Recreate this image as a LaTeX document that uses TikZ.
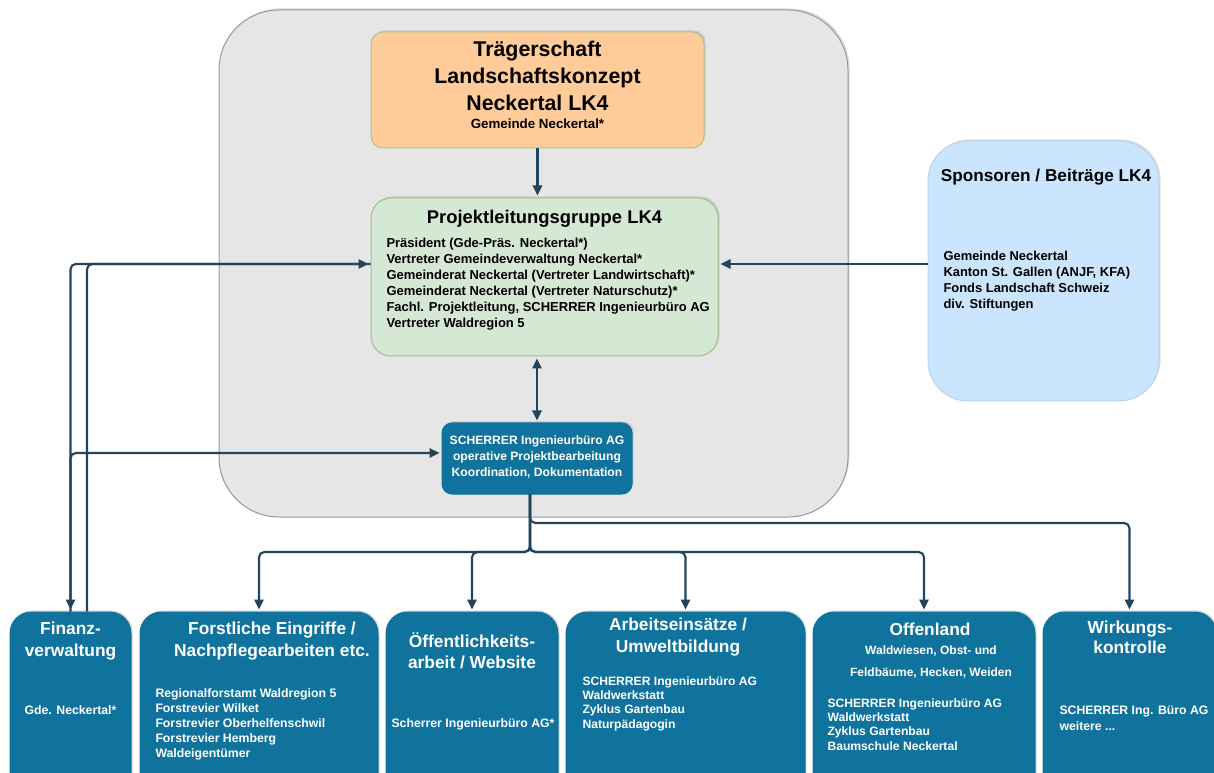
\documentclass[tikz,border=0pt]{standalone}
\usepackage{fontspec}
\setmainfont{Liberation Sans}
\usetikzlibrary{arrows.meta,shadows}

\definecolor{lkgray}{HTML}{E6E6E6}
\definecolor{lkgrayline}{HTML}{8C9BAA}
\definecolor{lkorange}{HTML}{FFCC99}
\definecolor{lkorangeline}{HTML}{AEC488}
\definecolor{lkgreen}{HTML}{D5E8D4}
\definecolor{lkgreenline}{HTML}{9CC383}
\definecolor{lksky}{HTML}{CCE5FF}
\definecolor{lkskyline}{HTML}{B8D4F0}
\definecolor{lkblue}{HTML}{10739E}
\definecolor{lkline}{HTML}{23445D}

\tikzset{every picture/.style={line width=0.75pt}}
\tikzset{
  lkshadow/.style={drop shadow={shadow xshift=1.2pt,shadow yshift=1.2pt,opacity=0.3,fill=black!45}},
  box/.style={rectangle,inner sep=0pt,line width=0.75pt,lkshadow},
  bluebox/.style={box,fill=lkblue,draw=lkblue,rounded corners=16pt,minimum height=142.5pt},
  txt/.style={inner sep=0pt,font=\bfseries},
  wtxt/.style={txt,text=white},
  conn/.style={draw=lkline,line width=1.6pt,rounded corners=4pt,-{Triangle[length=7.5pt,width=7pt]},shorten >=1.5pt}
}

\begin{document}
\begin{tikzpicture}[x=0.75pt,y=0.75pt,yscale=-1,xscale=1]
\useasboundingbox (0,0) rectangle (1214,773);
\clip (0,0) rectangle (1214,773);
%Rounded Rect [container]
\node[box,fill=lkgray,draw=lkgrayline,rounded corners=45pt,minimum width=471.75pt,minimum height=380.25pt] (lkrahmen) at (533.5,263.5) {};
%Rounded Rect [Traegerschaft]
\node[box,fill=lkorange,draw=lkorangeline,rounded corners=9pt,minimum width=249.75pt,minimum height=87pt] (trag) at (537.5,90) {};
%Rounded Rect [Projektleitung]
\node[box,fill=lkgreen,draw=lkgreenline,rounded corners=15pt,minimum width=260.25pt,minimum height=118.5pt] (plg) at (544.5,277) {};
%Rounded Rect [Sponsoren]
\node[box,fill=lksky,draw=lkskyline,rounded corners=30pt,minimum width=173.25pt,minimum height=195pt] (spo) at (1043.5,271) {};
%Rounded Rect [SCHERRER]
\node[box,fill=lkblue,draw=lkblue,rounded corners=7.5pt,minimum width=142.5pt,minimum height=53.25pt] (sch) at (537,458.5) {};
%Rounded Rect [bottom row]
\node[bluebox,minimum width=90.75pt] (fin) at (70.5,707) {};
\node[bluebox,minimum width=178.5pt] (for) at (259,707) {};
\node[bluebox,minimum width=129pt] (oef) at (472,707) {};
\node[bluebox,minimum width=179.25pt] (arb) at (685.5,707) {};
\node[bluebox,minimum width=166.5pt] (off) at (924,707) {};
\node[bluebox,minimum width=129.75pt] (wir) at (1129.5,707) {};

% Text Node
\node[txt,align=center,font=\fontsize{16}{20}\selectfont\bfseries] (tragT) at (537.5,76) {Trägerschaft\\Landschaftskonzept\\Neckertal LK4};
% Text Node
\node[txt,font=\fontsize{10}{12}\selectfont\bfseries] (tragS) at (537.5,124) {Gemeinde Neckertal*};
% Text Node
\node[txt,font=\fontsize{13.8}{16}\selectfont\bfseries] (plgT) at (544.5,219) {Projektleitungsgruppe LK4};
% Text Node
\node[txt,anchor=north west,align=left,font=\fontsize{9.75}{12}\selectfont\bfseries] (plgB) at (386,238) {Präsident (Gde-Präs. Neckertal*)\\Vertreter Gemeindeverwaltung Neckertal*\\Gemeinderat Neckertal (Vertreter Landwirtschaft)*\\Gemeinderat Neckertal (Vertreter Naturschutz)*\\Fachl. Projektleitung, SCHERRER Ingenieurbüro AG\\Vertreter Waldregion 5};
% Text Node
\node[txt,font=\fontsize{12.9}{15}\selectfont\bfseries] (spoT) at (1046,177) {Sponsoren / Beiträge LK4};
% Text Node
\node[txt,anchor=north west,align=left,font=\fontsize{9.7}{11.8}\selectfont\bfseries] (spoB) at (943,251) {Gemeinde Neckertal\\Kanton St. Gallen (ANJF, KFA)\\Fonds Landschaft Schweiz\\div. Stiftungen};
% Text Node
\node[wtxt,align=center,font=\fontsize{9.1}{12}\selectfont\bfseries] (schT) at (537,457) {SCHERRER Ingenieurbüro AG\\operative Projektbearbeitung\\Koordination, Dokumentation};

% Text Node
\node[wtxt,align=center,font=\fontsize{13}{16.5}\selectfont\bfseries] (finT) at (70.5,641) {Finanz-\\verwaltung};
\node[wtxt,font=\fontsize{9.2}{11}\selectfont\bfseries] (finB) at (70.5,710) {Gde. Neckertal*};
% Text Node
\node[wtxt,align=center,font=\fontsize{13}{16.5}\selectfont\bfseries] (forT) at (272,641) {Forstliche Eingriffe /\\Nachpflegearbeiten etc.};
\node[wtxt,anchor=north west,align=left,font=\fontsize{9.2}{11.25}\selectfont\bfseries] (forB) at (155,688) {Regionalforstamt Waldregion 5\\Forstrevier Wilket\\Forstrevier Oberhelfenschwil\\Forstrevier Hemberg\\Waldeigentümer};
% Text Node
\node[wtxt,align=center,font=\fontsize{13}{16}\selectfont\bfseries] (oefT) at (472,651) {Öffentlichkeits-\\arbeit / Website};
\node[wtxt,font=\fontsize{9.2}{11}\selectfont\bfseries] (oefB) at (473,724) {Scherrer Ingenieurbüro AG*};
% Text Node
\node[wtxt,align=center,font=\fontsize{13}{16.5}\selectfont\bfseries] (arbT) at (678,637) {Arbeitseinsätze /\\Umweltbildung};
\node[wtxt,anchor=north west,align=left,font=\fontsize{9.1}{10.75}\selectfont\bfseries] (arbB) at (582,676) {SCHERRER Ingenieurbüro AG\\Waldwerkstatt\\Zyklus Gartenbau\\Naturpädagogin};
% Text Node
\node[wtxt,font=\fontsize{13}{16}\selectfont\bfseries] (offT) at (930,629) {Offenland};
\node[wtxt,align=center,font=\fontsize{9}{16.5}\selectfont\bfseries] (offS) at (931,662) {Waldwiesen, Obst- und\\Feldbäume, Hecken, Weiden};
\node[wtxt,anchor=north west,align=left,font=\fontsize{9.1}{10.75}\selectfont\bfseries] (offB) at (827,698) {SCHERRER Ingenieurbüro AG\\Waldwerkstatt\\Zyklus Gartenbau\\Baumschule Neckertal};
% Text Node
\node[wtxt,align=center,font=\fontsize{13}{15}\selectfont\bfseries] (wirT) at (1130,637) {Wirkungs-\\kontrolle};
\node[wtxt,anchor=north west,align=left,font=\fontsize{9.2}{12}\selectfont\bfseries] (wirB) at (1059,705) {SCHERRER Ing. Büro AG\\weitere ...};

%Connectors
\coordinate (lvlA) at (0,264);
\coordinate (lvlB) at (0,453);
\coordinate (finR) at (87,0);
\coordinate (busA) at (0,552);
\coordinate (busB) at (0,523);
\coordinate (trunk) at (530,494);
\draw[conn] (trag.south) -- (trag.south |- plg.north);
\draw[conn,{Triangle[length=7.5pt,width=7pt]}-{Triangle[length=7.5pt,width=7pt]},shorten <=1.5pt] (sch.north |- plg.south) -- (sch.north);
\draw[conn] (spo.west |- lvlA) -- (plg.east |- lvlA);
\draw[conn] (fin.north -| finR) |- (plg.west |- lvlA);
\draw[conn] (plg.west |- lvlA) -| (fin.north);
\draw[conn] (fin.north) |- (sch.west |- lvlB);
\foreach \b in {for,oef,arb,off}
  \draw[conn] (trunk) |- (\b.north |- busA) -- (\b.north);
\draw[conn] (trunk) |- (wir.north |- busB) -- (wir.north);
\end{tikzpicture}
\end{document}
